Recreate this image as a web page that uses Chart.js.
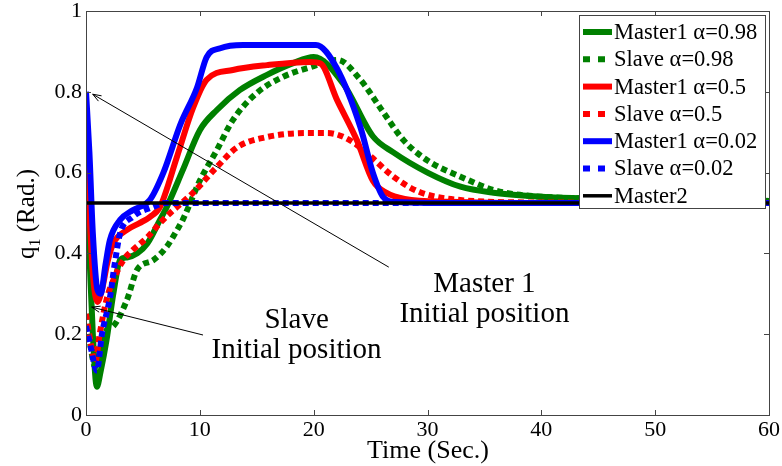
<!DOCTYPE html>
<html>
<head>
<meta charset="utf-8">
<script src="https://cdn.jsdelivr.net/npm/chart.js@4.4.1/dist/chart.umd.min.js"></script>
<style>
  body { margin: 0; background: #fff; }
</style>
</head>
<body>
<canvas id="chart" width="782" height="466"></canvas>
<script>
// axis ticks
var xTicks = [0, 10, 20, 30, 40, 50, 60];
var yTicks = [0, 0.2, 0.4, 0.6, 0.8, 1];
var yTickLabels = ['0', '0.2', '0.4', '0.6', '0.8', '1'];

var seriesNames = ['Master1 \u03b1=0.98', 'Slave \u03b1=0.98', 'Master1 \u03b1=0.5', 'Slave \u03b1=0.5',
                   'Master1 \u03b1=0.02', 'Slave \u03b1=0.02', 'Master2'];

// Master1 alpha=0.98 (green solid)
var gMasterT = [0, 0.3, 0.6, 0.95, 1.3, 1.8, 2.4, 3.0, 3.6, 4.5, 5.4, 6.5, 7.1, 8.5, 10, 11.5, 13.5, 15.9, 18.2, 20, 22.6, 25.2, 27, 30, 32.9, 35.8, 40, 45, 50, 60];
var gMasterV = [0.6, 0.4, 0.2, 0.07, 0.11, 0.185, 0.30, 0.384, 0.39, 0.40, 0.425, 0.483, 0.515, 0.606, 0.705, 0.755, 0.804, 0.842, 0.871, 0.886, 0.82, 0.69, 0.65, 0.60, 0.565, 0.55, 0.54, 0.535, 0.532, 0.53];
// Slave alpha=0.98 (green dotted)
var gSlaveT = [0, 0.4, 0.8, 1.2, 1.8, 2.4, 3.6, 4.5, 5.9, 7.1, 8.0, 8.5, 10, 11.5, 12.9, 15, 17.3, 19.7, 22.1, 24.1, 26.1, 27.9, 30, 32.9, 35.8, 38.1, 45, 50, 60];
var gSlaveV = [0.25, 0.17, 0.12, 0.16, 0.21, 0.22, 0.285, 0.36, 0.383, 0.417, 0.458, 0.483, 0.58, 0.656, 0.73, 0.797, 0.837, 0.861, 0.879, 0.83, 0.75, 0.68, 0.63, 0.59, 0.557, 0.545, 0.535, 0.532, 0.53];
// Master1 alpha=0.5 (red solid)
var rMasterT = [0, 0.3, 0.6, 1.0, 1.4, 1.9, 2.4, 3.6, 4.7, 5.6, 6.5, 8.0, 9.4, 10.6, 12.9, 15.9, 19.7, 20.6, 22.05, 23.8, 25.2, 26.4, 28, 32, 40, 60];
var rMasterV = [0.65, 0.5, 0.35, 0.28, 0.31, 0.38, 0.425, 0.458, 0.475, 0.49, 0.515, 0.64, 0.76, 0.83, 0.854, 0.866, 0.874, 0.87, 0.78, 0.68, 0.58, 0.55, 0.535, 0.528, 0.525, 0.525];
// Slave alpha=0.5 (red dotted)
var rSlaveT = [0, 0.4, 0.8, 1.2, 1.8, 2.4, 3.3, 4.1, 5.4, 6.5, 7.4, 9.4, 11.5, 13.3, 15.9, 19.4, 21.2, 23.2, 25.0, 27, 29.3, 32.9, 40, 60];
var rSlaveV = [0.25, 0.18, 0.13, 0.2, 0.285, 0.334, 0.384, 0.408, 0.44, 0.475, 0.5, 0.55, 0.614, 0.663, 0.688, 0.698, 0.698, 0.68, 0.64, 0.59, 0.552, 0.532, 0.526, 0.525];
// Master1 alpha=0.02 (blue solid)
var bMasterT = [0, 0.3, 0.6, 1.0, 1.3, 1.7, 2.1, 3.0, 4.1, 5.6, 6.8, 8.3, 9.75, 10.6, 11.8, 13.8, 20.2, 22.0, 24.1, 25.2, 26.1, 27.2, 30, 60];
var bMasterV = [0.80, 0.65, 0.45, 0.31, 0.30, 0.37, 0.433, 0.483, 0.507, 0.532, 0.60, 0.72, 0.81, 0.886, 0.908, 0.916, 0.916, 0.86, 0.713, 0.60, 0.54, 0.527, 0.525, 0.525];
// Slave alpha=0.02 (blue dotted)
var bSlaveT = [0, 0.4, 0.95, 1.4, 2.1, 2.5, 3.0, 4.1, 5.9, 7, 60];
var bSlaveV = [0.22, 0.17, 0.11, 0.2, 0.29, 0.37, 0.45, 0.49, 0.515, 0.525, 0.525];
// Master2 (black)
var m2T = [0, 60];
var m2V = [0.525, 0.525];

var FONT = '"Liberation Serif", "Times New Roman", serif';

function pts(t, v) {
  return t.map(function (x, i) { return { x: x, y: v[i] }; });
}

var color = { g: '#008000', r: '#ff0000', b: '#0000ff', k: '#000000' };
var dot = [6, 4];

var series = [
  { t: gMasterT, v: gMasterV, c: color.g, dash: [] },
  { t: gSlaveT, v: gSlaveV, c: color.g, dash: dot },
  { t: rMasterT, v: rMasterV, c: color.r, dash: [] },
  { t: rSlaveT, v: rSlaveV, c: color.r, dash: dot },
  { t: bMasterT, v: bMasterV, c: color.b, dash: [] },
  { t: bSlaveT, v: bSlaveV, c: color.b, dash: dot },
  { t: m2T, v: m2V, c: color.k, dash: [] }
];

var datasets = series.map(function (s, i) {
  return {
    label: seriesNames[i],
    data: pts(s.t, s.v),
    borderColor: s.c,
    borderWidth: i == 6 ? 3.5 : 6,
    borderDash: s.dash,
    pointRadius: 0,
    cubicInterpolationMode: 'monotone',
    order: 6 - i
  };
});

// annotations (data units)
var notes = [
  { from: [26.6, 0.366], to: [0.59, 0.794], text: ['Master 1', 'Initial position'], at: [35.0, 0.304], dy: 30 },
  { from: [10.28, 0.198], to: [0.5, 0.267], text: ['Slave', 'Initial position'], at: [18.5, 0.215], dy: 30 }
];

var decor = {
  id: 'decor',
  afterDatasetsDraw: function (chart) {
    var ctx = chart.ctx, a = chart.chartArea;
    var xs = chart.scales.x, ys = chart.scales.y;
    ctx.save();
    // frame + inward ticks
    ctx.strokeStyle = '#444';
    ctx.lineWidth = 1;
    ctx.strokeRect(a.left + 0.5, a.top + 0.5, a.right - a.left, a.bottom - a.top);
    ctx.beginPath();
    xTicks.forEach(function (t) {
      var px = Math.round(xs.getPixelForValue(t)) + 0.5;
      ctx.moveTo(px, a.bottom); ctx.lineTo(px, a.bottom - 5);
      ctx.moveTo(px, a.top); ctx.lineTo(px, a.top + 5);
    });
    yTicks.forEach(function (v) {
      var py = Math.round(ys.getPixelForValue(v)) + 0.5;
      ctx.moveTo(a.left, py); ctx.lineTo(a.left + 5, py);
      ctx.moveTo(a.right, py); ctx.lineTo(a.right - 5, py);
    });
    ctx.stroke();

    // annotations
    ctx.strokeStyle = '#000';
    ctx.fillStyle = '#000';
    ctx.lineWidth = 1;
    notes.forEach(function (n) {
      var x1 = xs.getPixelForValue(n.from[0]), y1 = ys.getPixelForValue(n.from[1]);
      var x2 = xs.getPixelForValue(n.to[0]), y2 = ys.getPixelForValue(n.to[1]);
      var ang = Math.atan2(y2 - y1, x2 - x1);
      ctx.beginPath();
      ctx.moveTo(x1, y1); ctx.lineTo(x2, y2);
      ctx.moveTo(x2 - 9 * Math.cos(ang - 0.35), y2 - 9 * Math.sin(ang - 0.35));
      ctx.lineTo(x2, y2);
      ctx.lineTo(x2 - 9 * Math.cos(ang + 0.35), y2 - 9 * Math.sin(ang + 0.35));
      ctx.stroke();
      ctx.font = '29px ' + FONT;
      ctx.textAlign = 'center';
      ctx.textBaseline = 'alphabetic';
      var tx = xs.getPixelForValue(n.at[0]), ty = ys.getPixelForValue(n.at[1]);
      n.text.forEach(function (line, k) { ctx.fillText(line, tx, ty + k * n.dy); });
    });

    // legend
    var lx = 579, ly = 15, lw = 186, lh = 193, row = 27.3;
    ctx.fillStyle = '#fff';
    ctx.fillRect(lx, ly, lw, lh);
    ctx.strokeStyle = '#444';
    ctx.strokeRect(lx + 0.5, ly + 0.5, lw, lh);
    ctx.font = '22.5px ' + FONT;
    ctx.textAlign = 'left';
    ctx.textBaseline = 'middle';
    chart.data.datasets.forEach(function (d, i) {
      var cy = ly + 17 + i * row;
      ctx.strokeStyle = d.borderColor;
      ctx.lineWidth = d.borderWidth;
      ctx.setLineDash(d.borderDash.length ? [7, 8] : []);
      ctx.beginPath();
      ctx.moveTo(583, cy); ctx.lineTo(612, cy);
      ctx.stroke();
      ctx.setLineDash([]);
      ctx.fillStyle = '#000';
      ctx.fillText(d.label, 614, cy + 1);
    });

    // axis titles
    ctx.fillStyle = '#000';
    ctx.font = '26px ' + FONT;
    ctx.textAlign = 'center';
    ctx.textBaseline = 'alphabetic';
    ctx.fillText('Time (Sec.)', 428, 458);

    ctx.translate(34, 214);
    ctx.rotate(-Math.PI / 2);
    ctx.textAlign = 'left';
    ctx.font = '25px ' + FONT;
    var w1 = ctx.measureText('q').width;
    var w3 = ctx.measureText(' (Rad.)').width;
    ctx.font = '16px ' + FONT;
    var w2 = ctx.measureText('1').width;
    var x0 = -(w1 + w2 + w3) / 2;
    ctx.font = '25px ' + FONT;
    ctx.fillText('q', x0, 0);
    ctx.font = '16px ' + FONT;
    ctx.fillText('1', x0 + w1, 6);
    ctx.font = '25px ' + FONT;
    ctx.fillText(' (Rad.)', x0 + w1 + w2, 0);
    ctx.restore();
  }
};

var ctx = document.getElementById('chart').getContext('2d');
var chart = new Chart(ctx, {
  type: 'line',
  data: { datasets: datasets },
  options: {
    responsive: false,
    animation: false,
    layout: { padding: { top: 11, right: 13, left: 0, bottom: 0 } },
    plugins: { legend: { display: false }, tooltip: { enabled: false } },
    scales: {
      x: {
        type: 'linear', min: 0, max: 60,
        grid: { display: false, drawTicks: false },
        border: { display: false },
        afterBuildTicks: function (s) { s.ticks = xTicks.map(function (v) { return { value: v }; }); },
        ticks: { color: '#000', font: { family: FONT, size: 22 }, padding: 2, maxRotation: 0 },
        afterFit: function (s) { s.height = 51; s.paddingLeft = 0; s.paddingRight = 0; }
      },
      y: {
        type: 'linear', min: 0, max: 1,
        grid: { display: false, drawTicks: false },
        border: { display: false },
        afterBuildTicks: function (s) { s.ticks = yTicks.map(function (v) { return { value: v }; }); },
        ticks: {
          color: '#000', font: { family: FONT, size: 22 }, padding: 4,
          callback: function (v) { return yTickLabels[yTicks.indexOf(v)]; }
        },
        afterFit: function (s) { s.width = 86; s.paddingTop = 0; s.paddingBottom = 0; }
      }
    }
  },
  plugins: [decor]
});
</script>
</body>
</html>
